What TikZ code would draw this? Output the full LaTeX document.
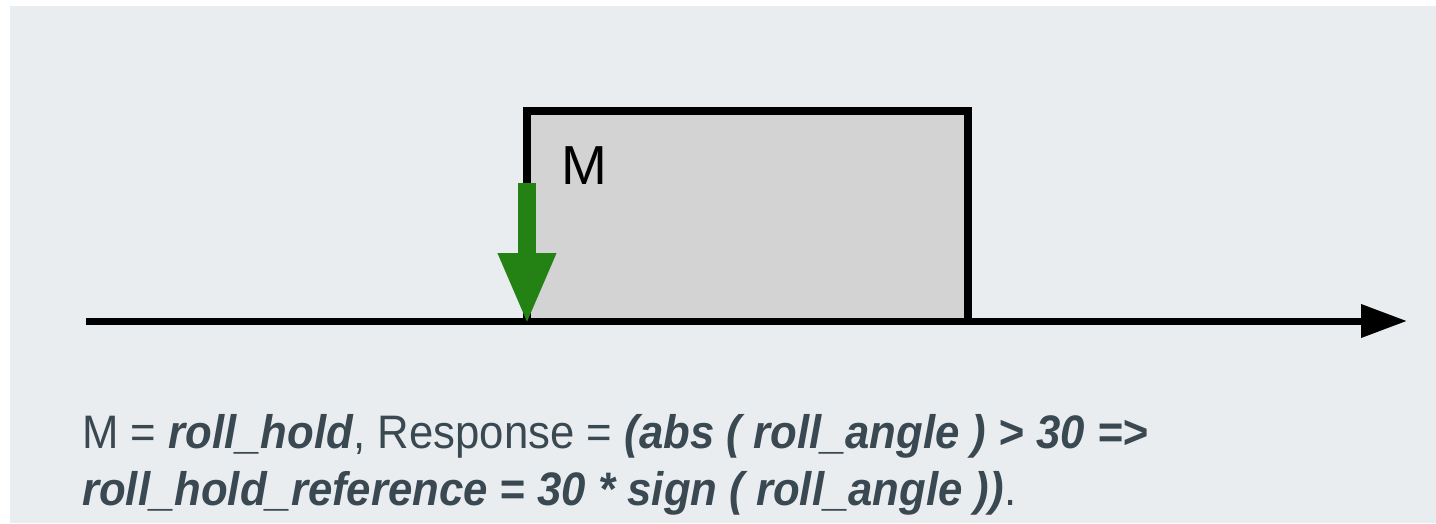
\documentclass[tikz,border=0pt]{standalone}
\usepackage{fontspec}
\setmainfont{Liberation Sans}
\usetikzlibrary{arrows.meta}
\definecolor{bg}{HTML}{E9EDF0}
\definecolor{boxfill}{HTML}{D3D3D3}
\definecolor{fgreen}{HTML}{248214}
\definecolor{txt}{HTML}{3A4852}
\tikzset{
  axisline/.style={line width=7pt, -{Triangle[length=46pt,width=32pt]}},
  forcearrow/.style={draw=fgreen, line width=18pt, -{Triangle[length=72pt,width=53pt]}},
  lbl/.style={inner sep=0pt, anchor=base west, text=black, font=\fontsize{55pt}{60pt}\selectfont},
  caption/.style={inner sep=0pt, anchor=base west, text=txt, font=\fontsize{47pt}{57pt}\selectfont, transform shape, xscale=0.93}
}
\begin{document}
\begin{tikzpicture}[x=1pt,y=-1pt]
\useasboundingbox (0,0) rectangle (1436,523);
\fill[white] (0,0) rectangle (1436,523);
\fill[bg] (10,6) rectangle (1436,523);
% mass box
\fill[boxfill] (527,111) rectangle (968,321);
\draw[black, line width=7.5pt] (527,111) -- (527,321);
\draw[black, line width=7.5pt, line cap=rect] (527,111) -- (968,111) -- (968,321);
% axis
\coordinate (a0) at (86,321);
\coordinate (a1) at (1407,321);
\draw[axisline] (a0) -- (a1);
% label M
\node[lbl] (m) at (561,184) {M};
% force arrow
\coordinate (f0) at (527,183);
\coordinate (f1) at (527,325);
\draw[forcearrow] (f0) -- (f1);
% caption
\node[caption] (c1) at (82,448) {M = \textbf{\textit{roll\_hold}}, Response = \textbf{\textit{(abs ( roll\_angle ) > 30 =>}}};
\node[caption] (c2) at (82,505) {\textbf{\textit{roll\_hold\_reference = 30 * sign ( roll\_angle ))}}.};
\end{tikzpicture}
\end{document}
